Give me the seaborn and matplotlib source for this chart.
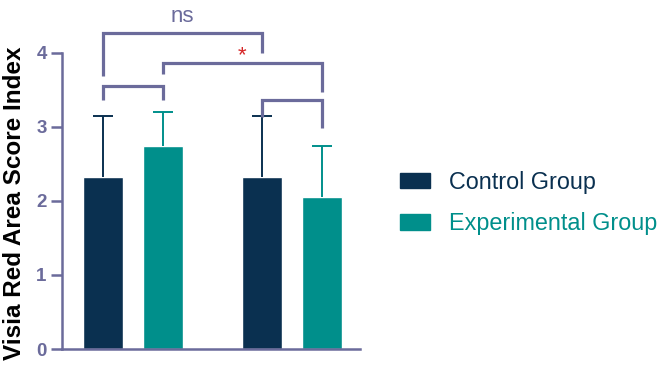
import numpy as np
import pandas as pd
import matplotlib
matplotlib.use("Agg")
import matplotlib.pyplot as plt
from matplotlib.patches import Patch
import seaborn as sns

# values (mean, upper error = SD)
timepoints = ["Before", "After"]
groups = ["Control Group", "Experimental Group"]
control_mean = [2.32, 2.32]
control_sd = [0.82, 0.82]
exp_mean = [2.74, 2.05]
exp_sd = [0.46, 0.69]

navy = "#0a3050"
teal = "#008f8b"
slate = "#6b6b9b"

df = pd.DataFrame({
    "time": timepoints * 2,
    "group": [groups[0]] * 2 + [groups[1]] * 2,
    "score": control_mean + exp_mean,
})

sns.set_style("white")
plt.rcParams["font.family"] = ["Liberation Sans", "DejaVu Sans"]

fig = plt.figure(figsize=(6.64, 3.67), dpi=100)
ax = fig.add_axes([62 / 664, 18 / 367, 298 / 664, 296.5 / 367])

sns.barplot(data=df, x="time", y="score", hue="group", palette=[navy, teal],
            width=0.755, gap=0.34, errorbar=None, saturation=1, legend=False, ax=ax)

# upper-only error bars
sds = [control_sd, exp_sd]
cols = [navy, teal]
bar_sets = list(ax.containers)
centers = []
for i, cont in enumerate(bar_sets):
    cx = []
    for bar, sd in zip(cont, sds[i]):
        x = bar.get_x() + bar.get_width() / 2
        h = bar.get_height()
        cx.append(x)
        eb = ax.errorbar(x, h, yerr=[[0], [sd]], fmt="none", ecolor=cols[i],
                         elinewidth=1.4, capsize=7, capthick=1.4, zorder=1)
        eb[1][0].set_visible(False)  # drop the lower cap
    centers.append(cx)

b1, b3 = centers[0]
b2, b4 = centers[1]


def bracket(xa, xb, y, ya, yb):
    ax.plot([xa, xa, xb, xb], [ya, y, y, yb], color=slate, lw=2.3,
            clip_on=False, solid_capstyle="butt", solid_joinstyle="miter", zorder=3)


bracket(b1, b2, 3.55, 3.36, 3.36)
bracket(b3, b4, 3.36, 3.13, 2.98)
bracket(b1, b3, 4.265, 3.684, 3.995)
bracket(b2, b4, 3.86, 3.71, 3.47)
ax.text((b1 + b3) / 2, 4.49, "ns", ha="center", va="center", fontsize=16, color=slate)
ax.text((b2 + b4) / 2, 3.96, "*", ha="center", va="center", fontsize=16, color="#d62728")

ax.set_xlim(-0.447, 1.428)
ax.set_ylim(0, 4)
ax.set_yticks([0, 1, 2, 3, 4])
ax.set_xticks([])
ax.set_xlabel("")
ax.tick_params(axis="y", length=8, width=1.8, color=slate, labelcolor=slate,
               labelsize=13.5, pad=3, left=True)
for lbl in ax.get_yticklabels():
    lbl.set_fontweight("bold")

for s in ["top", "right"]:
    ax.spines[s].set_visible(False)
for s in ["left", "bottom"]:
    ax.spines[s].set_color(slate)
    ax.spines[s].set_linewidth(1.8)

ax.set_ylabel("Visia Red Area Score Index", fontsize=17.5, fontweight="bold", color="black")
ax.yaxis.set_label_coords(-0.121, 0.49)

handles = [Patch(color=navy, label=groups[0]), Patch(color=teal, label=groups[1])]
fig.legend(handles=handles, loc="center left", bbox_to_anchor=(400 / 664, 0.447),
           frameon=False, fontsize=16.8, handlelength=1.29, handleheight=0.64,
           handletextpad=0.8, labelspacing=0.8, borderpad=0, borderaxespad=0,
           labelcolor=[navy, teal])

fig.savefig("out.png", dpi=100)
